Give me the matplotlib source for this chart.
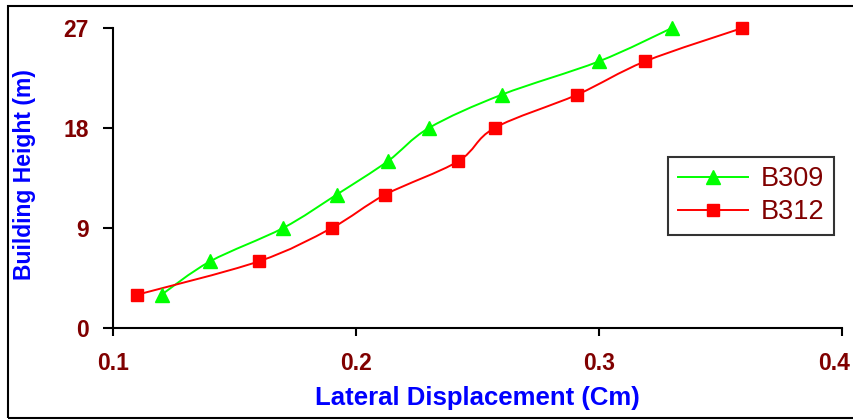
import matplotlib
matplotlib.use("Agg")
import matplotlib.pyplot as plt
import numpy as np
from matplotlib.path import Path
from matplotlib.patches import PathPatch, Rectangle
from matplotlib.lines import Line2D
import matplotlib.transforms as mtransforms

# values
heights = [3, 6, 9, 12, 15, 18, 21, 24, 27]
b309_disp = [0.12, 0.14, 0.17, 0.192, 0.213, 0.23, 0.26, 0.30, 0.33]
b312_disp = [0.11, 0.16, 0.19, 0.212, 0.242, 0.257, 0.291, 0.319, 0.359]
x_ticks = [0.1, 0.2, 0.3, 0.4]
y_ticks = [0, 9, 18, 27]

DARK_RED = "#800000"
BLUE = "#0000FF"
FONT = "Liberation Sans"


def smooth_path(xs, ys):
    # Excel-like smoothed line: cubic Bezier segments through every point
    pts = np.column_stack([xs, ys]).astype(float)
    verts = [pts[0]]
    codes = [Path.MOVETO]
    n = len(pts)
    for i in range(n - 1):
        p0 = pts[i - 1] if i > 0 else pts[i]
        p1 = pts[i]
        p2 = pts[i + 1]
        p3 = pts[i + 2] if i + 2 < n else pts[i + 1]
        c1 = p1 + (p2 - p0) / 6.0
        c2 = p2 - (p3 - p1) / 6.0
        verts += [c1, c2, p2]
        codes += [Path.CURVE4] * 3
    return Path(verts, codes)


fig = plt.figure(figsize=(8.54, 4.2), dpi=100)
ax = fig.add_axes([113 / 854, 92 / 420, 729 / 854, 300 / 420])

series = [
    ("B309", b309_disp, "#00FF00", "^"),
    ("B312", b312_disp, "#FF0000", "s"),
]
handles = []
for name, xs, col, mk in series:
    ax.add_patch(PathPatch(smooth_path(xs, heights), facecolor="none",
                           edgecolor=col, lw=1.4, zorder=2))
    ms = 9.5 if mk == "^" else 8.5
    ax.plot(xs, heights, linestyle="none", marker=mk, color=col,
            markersize=ms, zorder=3, clip_on=False)
    handles.append(Line2D([], [], color=col, lw=1.4, marker=mk,
                          markersize=ms, label=name))

ax.set_xlim(0.1, 0.4)
ax.set_ylim(0, 27)
ax.set_xticks(x_ticks)
ax.set_xticklabels([f"{v:.1f}" for v in x_ticks])
ax.set_yticks(y_ticks)
ax.set_yticklabels([str(v) for v in y_ticks])

for s in ["top", "right"]:
    ax.spines[s].set_visible(False)
for s in ["left", "bottom"]:
    ax.spines[s].set_linewidth(1.5)
    ax.spines[s].set_color("black")

ax.tick_params(axis="y", direction="out", length=7.5, width=1.5, pad=10)
ax.tick_params(axis="x", direction="out", length=6, width=1.5, pad=11)
for lab in ax.get_xticklabels() + ax.get_yticklabels():
    lab.set_fontfamily(FONT)
    lab.set_fontweight("bold")
    lab.set_fontsize(16.5)
    lab.set_color(DARK_RED)
# last x label sits at the right edge; nudge it in so it stays readable
last = ax.get_xticklabels()[-1]
last.set_transform(last.get_transform() +
                   mtransforms.ScaledTranslation(-8 / 100, 0, fig.dpi_scale_trans))

ax.set_xlabel("Lateral Displacement (Cm)", fontfamily=FONT, fontweight="bold",
              fontsize=18.5, color=BLUE, labelpad=8)
ax.set_ylabel("Building Height (m)", fontfamily=FONT, fontweight="bold",
              fontsize=16.5, color=BLUE)
ax.yaxis.set_label_coords(-0.105, 0.51)

leg = ax.legend(handles=handles, loc="upper left",
                bbox_to_anchor=(0.762, 0.57), frameon=True, fancybox=False,
                edgecolor="black", borderpad=0.35, handlelength=2.6,
                handletextpad=0.45, labelspacing=0.25, borderaxespad=0,
                prop={"family": FONT, "size": 19.5})
leg.get_frame().set_linewidth(1.5)
for t in leg.get_texts():
    t.set_color(DARK_RED)

# outer chart border
fig.patches.append(Rectangle((8 / 854, 2 / 420), 1.0, 412 / 420,
                             transform=fig.transFigure, fill=False,
                             edgecolor="black", lw=1.5))

fig.savefig("out.png", dpi=100)
